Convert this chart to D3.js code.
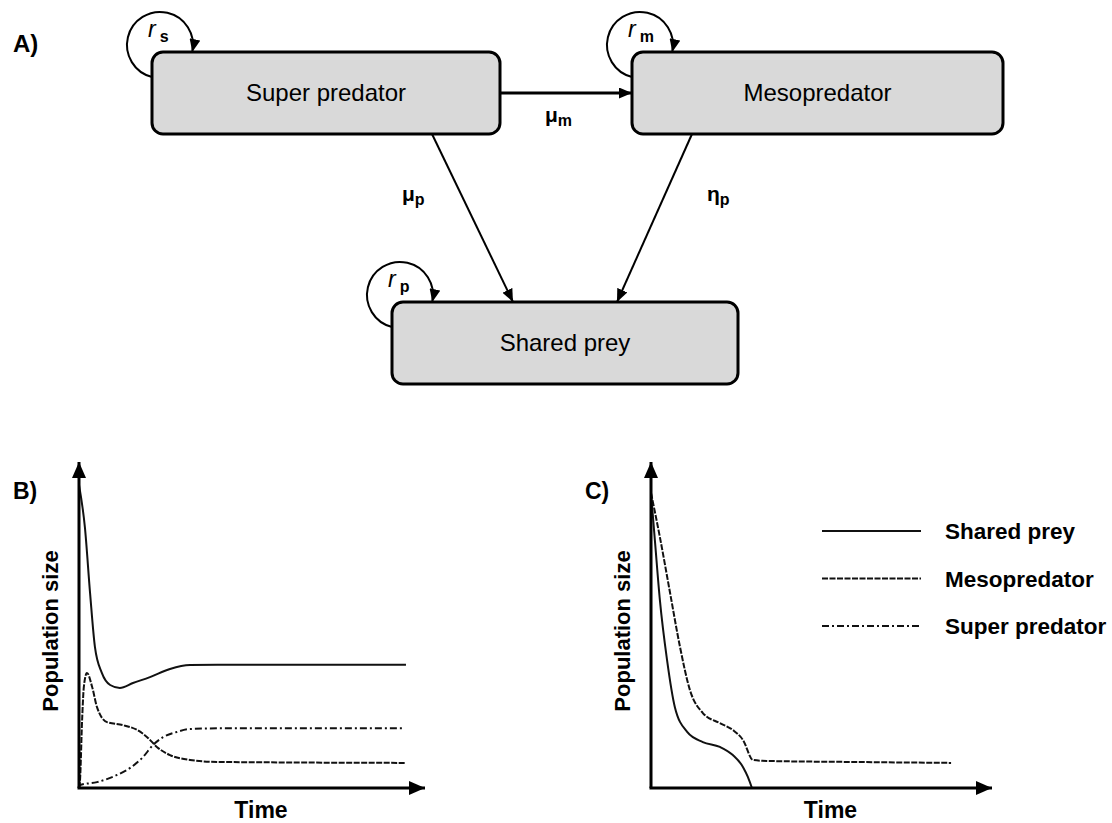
<!DOCTYPE html>
<html>
<head>
<meta charset="utf-8">
<script src="https://cdn.jsdelivr.net/npm/d3@7"></script>
<style>
  html, body { margin: 0; padding: 0; background: #fff; }
  svg { display: block; font-family: "Liberation Sans", Arial, sans-serif; }
</style>
</head>
<body>
<svg id="fig" width="1112" height="823"></svg>
<script>
// ---- Food-web model (panel A) ----
const nodeNames = ["Super predator", "Mesopredator", "Shared prey"];
const growthSubs = ["s", "m", "p"];
// links: [from, to, symbol, subscript]
const links = [
  [0, 1, "\u03bc", "m"],
  [0, 2, "\u03bc", "p"],
  [1, 2, "\u03b7", "p"]
];

// ---- Dynamics (panels B and C): [time, population] ----
const seriesNames = ["Shared prey", "Mesopredator", "Super predator"];
const preyB = [[0,93],[1.7,80],[3.2,59.8],[4.6,43.3],[6.6,35.3],[9,31.6],[11.8,30.7],[15.6,32.2],[20.5,34],[26.3,36.5],[32.1,37.7],[40,37.8],[94.5,37.8]];
const mesoB = [[0,0],[0.3,2.5],[0.9,20.9],[1.4,31],[2.3,35.3],[3.8,31],[5.2,24.8],[8.1,20.2],[12.7,19.3],[16.8,17.8],[19.7,15.6],[22.5,12.6],[26.3,10.1],[32.1,8.6],[39.9,8.0],[94.5,7.7]];
const superB = [[0,0],[0.3,0.9],[5.2,1.8],[11,4],[14.7,6.1],[18.5,9.5],[21.4,13.2],[24.3,15.6],[28.3,17.2],[32.1,18.1],[40,18.3],[93.4,18.3]];
const preyC = [[0,90.5],[1.2,75.2],[2.6,57.7],[4.7,39.3],[7,24.8],[10.6,17.2],[15.2,14.1],[20.2,12.6],[24,10.1],[27,6.4],[28.4,3.4],[29.6,0]];
const mesoC = [[0,90.5],[2.6,77],[5.6,59.8],[8.5,43.3],[11.4,30.1],[15.2,23],[20.2,19.9],[24,17.8],[27,14.7],[29.9,8.6],[34,8.3],[57.5,8.0],[88,7.7]];

const svg = d3.select("#fig");
const ink = "#000";

// arrowhead markers
const defs = svg.append("defs");
function marker(id, len, wid) {
  defs.append("marker")
    .attr("id", id)
    .attr("markerUnits", "userSpaceOnUse")
    .attr("viewBox", `0 0 ${len} ${wid}`)
    .attr("markerWidth", len).attr("markerHeight", wid)
    .attr("refX", len).attr("refY", wid / 2)
    .attr("orient", "auto")
    .append("path")
    .attr("d", `M0,0L${len},${wid / 2}L0,${wid}Z`)
    .attr("fill", ink);
}
marker("arr", 13, 11);
marker("axarr", 16, 14);

// ---------- Panel A ----------
const boxes = [
  { x: 152, y: 52, w: 348, h: 82 },
  { x: 632, y: 52, w: 371, h: 82 },
  { x: 392, y: 302, w: 346, h: 82 }
];

svg.append("text").attr("x", 13).attr("y", 52)
  .attr("font-size", 24).attr("font-weight", "bold").text("A)");

const gA = svg.append("g");

// self-regulation loops
const loopR = 33;
boxes.forEach((b, i) => {
  const cx = b.x + 8, cy = b.y - 7;
  const p = d3.path();
  p.arc(cx, cy, loopR, 1.815, 2 * Math.PI + 0.215, false);
  gA.append("path").attr("d", p.toString())
    .attr("fill", "none").attr("stroke", ink).attr("stroke-width", 2)
    .attr("marker-end", "url(#arr)");
  const t = gA.append("text").attr("x", cx - 12).attr("y", cy - 8);
  t.append("tspan").attr("font-style", "italic").attr("font-size", 23).text("r");
  t.append("tspan").attr("dx", 4).attr("dy", 5).attr("font-size", 16)
    .attr("font-weight", "bold").text(growthSubs[i]);
});

// interaction arrows
const linkGeom = [
  { x1: 500, y1: 93, x2: 632, y2: 93, lx: 545, ly: 122, w: 3 },
  { x1: 432, y1: 134, x2: 513, y2: 302, lx: 402, ly: 201, w: 2 },
  { x1: 692, y1: 134, x2: 617, y2: 302, lx: 707, ly: 201, w: 2 }
];
links.forEach((l, i) => {
  const g = linkGeom[i];
  gA.append("line")
    .attr("x1", g.x1).attr("y1", g.y1).attr("x2", g.x2).attr("y2", g.y2)
    .attr("stroke", ink).attr("stroke-width", g.w)
    .attr("marker-end", "url(#arr)");
  const t = gA.append("text").attr("x", g.lx).attr("y", g.ly).attr("font-weight", "bold");
  t.append("tspan").attr("font-size", 21).text(l[2]);
  t.append("tspan").attr("dy", 4).attr("font-size", 16).text(l[3]);
});

// boxes
boxes.forEach((b, i) => {
  gA.append("rect")
    .attr("x", b.x).attr("y", b.y).attr("width", b.w).attr("height", b.h)
    .attr("rx", 11).attr("ry", 11)
    .attr("fill", "#d9d9d9").attr("stroke", ink).attr("stroke-width", 3);
  gA.append("text")
    .attr("x", b.x + b.w / 2).attr("y", b.y + b.h / 2 + 8)
    .attr("text-anchor", "middle").attr("font-size", 24)
    .text(nodeNames[i]);
});

// ---------- Panels B and C ----------
const styles = [
  { dash: null, w: 2 },
  { dash: "6,1.5", w: 2 },
  { dash: "7,3,2,3", w: 2 }
];

function panel(label, x0, x1, seriesList) {
  const x = d3.scaleLinear().domain([0, 100]).range([x0, x1]);
  const y = d3.scaleLinear().domain([0, 100]).range([788, 462]);
  const g = svg.append("g");

  const line = d3.line().x(d => x(d[0])).y(d => y(d[1])).curve(d3.curveMonotoneX);
  seriesList.forEach(s => {
    if (!s.data) return;
    g.append("path").attr("d", line(s.data))
      .attr("fill", "none").attr("stroke", "#111")
      .attr("stroke-width", styles[s.k].w)
      .attr("stroke-dasharray", styles[s.k].dash);
  });

  // axes with arrowheads
  g.append("line").attr("x1", x(0)).attr("y1", y(0)).attr("x2", x(0)).attr("y2", y(100))
    .attr("stroke", ink).attr("stroke-width", 3).attr("marker-end", "url(#axarr)");
  g.append("line").attr("x1", x(0) - 1.5).attr("y1", y(0)).attr("x2", x(100)).attr("y2", y(0))
    .attr("stroke", ink).attr("stroke-width", 3).attr("marker-end", "url(#axarr)");

  g.append("text").attr("x", x0 - 66).attr("y", 499)
    .attr("font-size", 23).attr("font-weight", "bold").text(label);
  g.append("text").attr("transform", `translate(${x0 - 21},631) rotate(-90)`)
    .attr("text-anchor", "middle").attr("font-size", 22).attr("font-weight", "bold")
    .text("Population size");
  g.append("text").attr("x", (x0 + x1) / 2 + 9).attr("y", 818)
    .attr("text-anchor", "middle").attr("font-size", 23).attr("font-weight", "bold")
    .text("Time");
}

panel("B)", 79, 425, [
  { k: 0, data: preyB }, { k: 1, data: mesoB }, { k: 2, data: superB }
]);
panel("C)", 651, 992, [
  { k: 0, data: preyC }, { k: 1, data: mesoC }
]);

// legend
const leg = svg.append("g");
seriesNames.forEach((n, i) => {
  const yy = 531 + i * 47.5;
  leg.append("line").attr("x1", 822).attr("x2", 921).attr("y1", yy).attr("y2", yy)
    .attr("stroke", "#111").attr("stroke-width", styles[i].w)
    .attr("stroke-dasharray", styles[i].dash);
  leg.append("text").attr("x", 945).attr("y", yy + 8)
    .attr("font-size", 22.5).attr("font-weight", "bold").text(n);
});
</script>
</body>
</html>
